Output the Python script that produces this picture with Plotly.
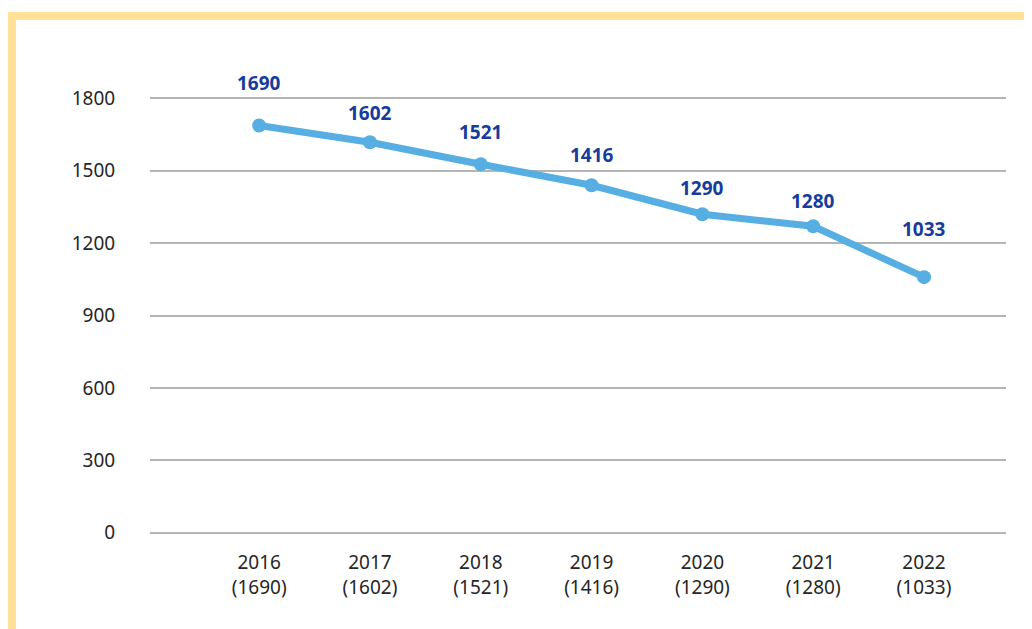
import plotly.graph_objects as go

# data
years = ["2016", "2017", "2018", "2019", "2020", "2021", "2022"]
totals = [1690, 1602, 1521, 1416, 1290, 1280, 1033]          # printed values
plotted = [1688, 1618, 1527, 1440, 1320, 1270, 1059]         # where the points sit in the picture
label_lift = [42, 29, 32, 30, 26, 25, 48]                    # px above each point

tick_text = [f"{y}<br>({v})" for y, v in zip(years, totals)]

fig = go.Figure()
fig.add_trace(go.Scatter(
    x=years, y=plotted,
    mode="lines+markers",
    line=dict(color="#56AEE3", width=7),
    marker=dict(color="#56AEE3", size=14),
    cliponaxis=False,
    hoverinfo="skip",
))

# category axis: annotate by index so "2016" is not read as a number
for i, (val, txt, lift) in enumerate(zip(plotted, totals, label_lift)):
    fig.add_annotation(x=i, y=val, text=f"<b>{txt}</b>", showarrow=False,
                       yshift=lift, font=dict(family="Noto Sans", size=19, color="#163C9C"))

# yellow frame (top + left)
frame = "#FFE19A"
fig.add_shape(type="rect", xref="paper", yref="paper", xsizemode="pixel", ysizemode="pixel",
              xanchor=0, yanchor=1, x0=-142, x1=900, y0=76, y1=84,
              fillcolor=frame, line_width=0, layer="below")
fig.add_shape(type="rect", xref="paper", yref="paper", xsizemode="pixel", ysizemode="pixel",
              xanchor=0, yanchor=1, x0=-142, x1=-134, y0=-600, y1=84,
              fillcolor=frame, line_width=0, layer="below")

fig.update_layout(
    width=1032, height=629,
    margin=dict(l=142, r=34, t=88, b=102),
    paper_bgcolor="white", plot_bgcolor="white",
    showlegend=False,
    font=dict(family="Noto Sans", size=19, color="#262626"),
    xaxis=dict(
        type="category", tickvals=years, ticktext=tick_text,
        range=[-0.985, 6.74], showgrid=False, zeroline=False, showline=False,
        ticks="outside", ticklen=10, tickcolor="rgba(0,0,0,0)",
    ),
    yaxis=dict(
        range=[-10, 1810], tickvals=[0, 300, 600, 900, 1200, 1500, 1800],
        showgrid=True, gridcolor="#B5B5B5", gridwidth=2,
        zeroline=False, showline=False,
        ticks="outside", ticklen=30, tickcolor="rgba(0,0,0,0)",
    ),
)

fig.write_html("out.html")
